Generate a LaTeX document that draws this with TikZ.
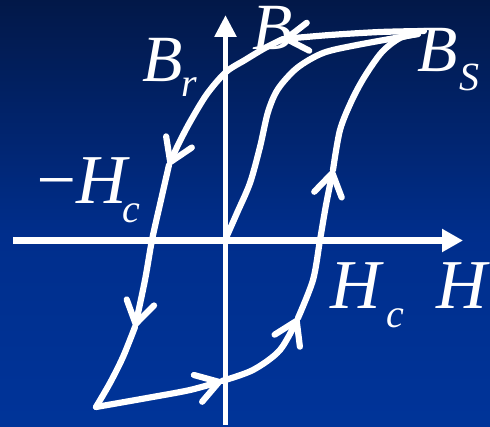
\documentclass[tikz,border=0pt]{standalone}
\usepackage{fontspec}
\setmainfont{Liberation Serif}
\usetikzlibrary{arrows.meta}
\definecolor{bgtop}{RGB}{2,24,72}
\definecolor{bgmid}{RGB}{0,46,140}
\definecolor{bgbot}{RGB}{0,52,153}
\tikzset{
  curve/.style={draw=white,line width=6.2pt,line cap=round,line join=round},
  barb/.style={-{Straight Barb[length=22pt,width=28pt,round]}},
  big/.style={text=white,inner sep=0pt,anchor=base west,font=\fontsize{66}{70}\selectfont\itshape},
  bigh/.style={text=white,inner sep=0pt,anchor=base west,font=\fontsize{70}{74}\selectfont\itshape},
  sub/.style={text=white,inner sep=0pt,anchor=base west,font=\fontsize{40}{44}\selectfont\itshape},
}
\begin{document}
\begin{tikzpicture}[x=1pt,y=-1pt]
\useasboundingbox (0,0) rectangle (490,427);
\shade[top color=bgtop,bottom color=bgmid] (0,0) rectangle (490,235);
\shade[top color=bgmid,bottom color=bgbot] (0,234) rectangle (490,427);
% axes
\coordinate (ybot) at (225.5,425);
\coordinate (ytop) at (225.5,15);
\coordinate (xl) at (13,240.5);
\coordinate (xr) at (463,240.5);
\draw[white,line width=5.5pt,-{Triangle[length=22pt,width=21pt]}] (ybot) -- (ytop);
\draw[white,line width=7.5pt,-{Triangle[length=21pt,width=22pt]}] (xl) -- (xr);
% labels
\node[big] (lb) at (252,50) {B};
\node[big] (lbr) at (142,82) {B};
\node[sub] (lr) at (181,97) {r};
\node[big] (lbs) at (417,72) {B};
\node[sub] (ls) at (459,91) {S};
\node[bigh] (lm) at (32,204) {−};
\node[bigh] (lh1) at (76,204) {H};
\node[sub] (lc1) at (122,223) {c};
\node[bigh] (lh2) at (330,309) {H};
\node[sub] (lc2) at (386,328) {c};
\node[bigh] (lh3) at (436,309) {H};
% key points
\coordinate (bs) at (424,31);
\coordinate (a1) at (283,39);
\coordinate (a2) at (169,165);
\coordinate (a3) at (135,327);
\coordinate (cn) at (96,407);
\coordinate (a4) at (222,381);
\coordinate (a5) at (298,318);
\coordinate (a6) at (333,170);
\coordinate (bj) at (418,34);
\coordinate (o) at (226,238);
% hysteresis loop
\draw[curve,barb] plot[smooth] coordinates {(bs) (380,32) (330,35) (a1)};
\draw[curve,barb] plot[smooth] coordinates {(a1) (265,48) (245,60) (226,72) (207,94) (190,122) (178,145) (a2)};
\draw[curve,barb] plot[smooth] coordinates {(a2) (161,200) (152,240) (145,280) (a3)};
\draw[curve] plot[smooth] coordinates {(a3) (123,357) (110,383) (cn)};
\draw[curve,barb] plot[smooth] coordinates {(cn) (147,398) (190,390) (a4)};
\draw[curve,barb] plot[smooth] coordinates {(a4) (253,370) (280,350) (a5)};
\draw[curve,barb] plot[smooth] coordinates {(a5) (313,280) (320,240) (326,205) (a6)};
\draw[curve] plot[smooth] coordinates {(a6) (340,130) (352,100) (365,76) (382,52) (400,38) (bj)};
% initial magnetisation curve
\draw[curve] plot[smooth] coordinates {(o) (237,213) (250,183) (260,147) (268,112) (278,89) (297,68) (323,53) (357,45) (bj)};
\end{tikzpicture}
\end{document}
